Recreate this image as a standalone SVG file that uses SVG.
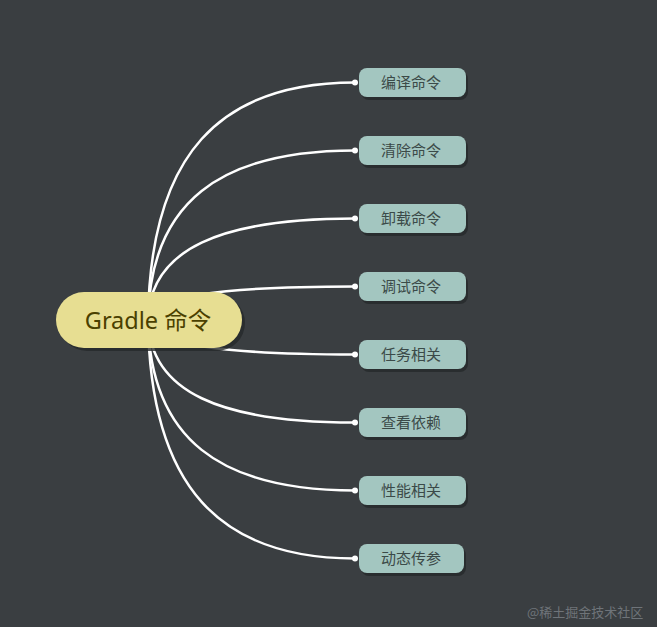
<svg xmlns="http://www.w3.org/2000/svg" width="657" height="627" viewBox="0 0 657 627">
<style>
.bg{fill:#3a3e41}
.edge{fill:none;stroke:#ffffff;stroke-width:2.5;stroke-linecap:round}
.dot{fill:#ffffff}
.shadow{fill:#26292b;opacity:0.8}
.child rect.box{fill:#a3c6c0}
.child text{font-family:"Noto Sans CJK SC","Noto Sans",sans-serif;font-size:15px;fill:#3b4a48;text-anchor:middle}
.root rect.box{fill:#e7de92}
.root text{font-family:"Noto Sans","Noto Sans CJK SC",sans-serif;font-size:23.5px;fill:#4a4000;text-anchor:middle}
.wm{font-family:"Noto Sans CJK SC",sans-serif;font-size:13px;fill:#6f7479}
</style>
<rect class="bg" x="0" y="0" width="657" height="627"/>
<g id="connectors">
<path class="edge" d="M148,320 C150,154 220,82.5 355,82.5"/>
<path class="edge" d="M148,320 C150,202 220,150.5 355,150.5"/>
<path class="edge" d="M148,320 C150,249 220,218.5 355,218.5"/>
<path class="edge" d="M148,320 C150,296 220,286.5 355,286.5"/>
<path class="edge" d="M148,320 C150,344 220,354.5 355,354.5"/>
<path class="edge" d="M148,320 C150,392 220,422.5 355,422.5"/>
<path class="edge" d="M148,320 C150,439 220,490.5 355,490.5"/>
<path class="edge" d="M148,320 C150,487 220,558.5 355,558.5"/>
<circle class="dot" cx="355" cy="82.5" r="3"/>
<circle class="dot" cx="355" cy="150.5" r="3"/>
<circle class="dot" cx="355" cy="218.5" r="3"/>
<circle class="dot" cx="355" cy="286.5" r="3"/>
<circle class="dot" cx="355" cy="354.5" r="3"/>
<circle class="dot" cx="355" cy="422.5" r="3"/>
<circle class="dot" cx="355" cy="490.5" r="3"/>
<circle class="dot" cx="355" cy="558.5" r="3"/>
</g>
<g id="root" class="root">
<rect class="shadow" x="59" y="295" width="186" height="56" rx="28"/>
<rect class="box" x="56" y="292" width="186" height="56" rx="28"/>
<text x="148" y="329">Gradle 命令</text>
</g>
<g id="n1" class="child"><rect class="shadow" x="361" y="71" width="107" height="29" rx="8"/><rect class="box" x="359" y="68" width="107" height="29" rx="8"/><text x="411" y="88">编译命令</text></g>
<g id="n2" class="child"><rect class="shadow" x="361" y="139" width="107" height="29" rx="8"/><rect class="box" x="359" y="136" width="107" height="29" rx="8"/><text x="411" y="156">清除命令</text></g>
<g id="n3" class="child"><rect class="shadow" x="361" y="207" width="107" height="29" rx="8"/><rect class="box" x="359" y="204" width="107" height="29" rx="8"/><text x="411" y="224">卸载命令</text></g>
<g id="n4" class="child"><rect class="shadow" x="361" y="275" width="107" height="29" rx="8"/><rect class="box" x="359" y="272" width="107" height="29" rx="8"/><text x="411" y="292">调试命令</text></g>
<g id="n5" class="child"><rect class="shadow" x="361" y="343" width="107" height="29" rx="8"/><rect class="box" x="359" y="340" width="107" height="29" rx="8"/><text x="411" y="360">任务相关</text></g>
<g id="n6" class="child"><rect class="shadow" x="361" y="411" width="107" height="29" rx="8"/><rect class="box" x="359" y="408" width="107" height="29" rx="8"/><text x="411" y="428">查看依赖</text></g>
<g id="n7" class="child"><rect class="shadow" x="361" y="479" width="107" height="29" rx="8"/><rect class="box" x="359" y="476" width="107" height="29" rx="8"/><text x="411" y="496">性能相关</text></g>
<g id="n8" class="child"><rect class="shadow" x="361" y="547" width="105" height="29" rx="8"/><rect class="box" x="359" y="544" width="105" height="29" rx="8"/><text x="411" y="564">动态传参</text></g>
<text class="wm" x="527" y="617">@稀土掘金技术社区</text>
</svg>
